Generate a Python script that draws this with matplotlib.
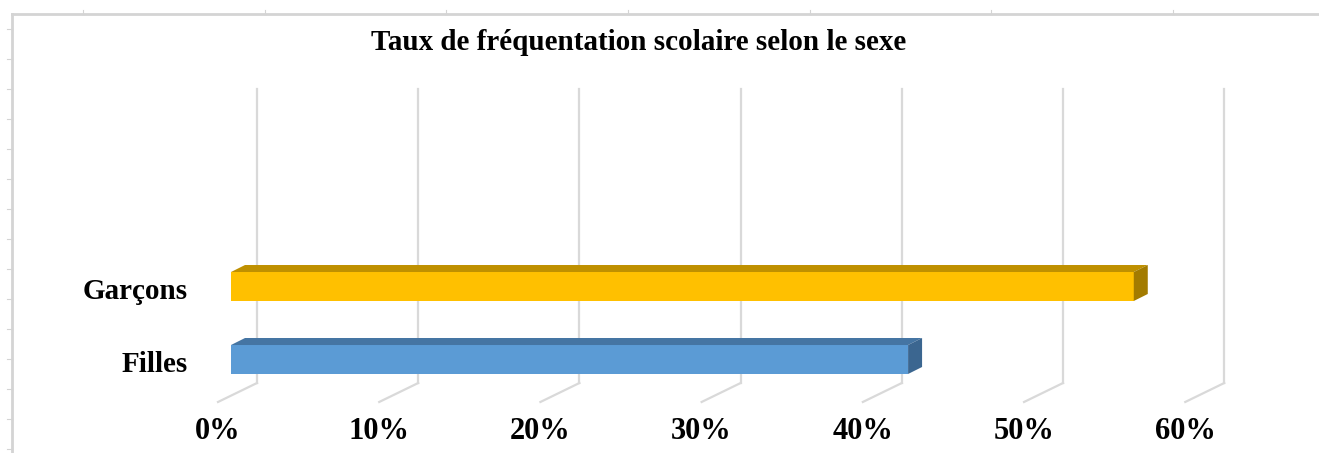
import numpy as np
import matplotlib.pyplot as plt
from matplotlib.patches import Polygon

# données
categories = ['Filles', 'Garçons']
valeurs = [42, 56]          # en %
ticks = [0, 10, 20, 30, 40, 50, 60]
tick_labels = ['0%', '10%', '20%', '30%', '40%', '50%', '60%']

faces = ['#5B9BD5', '#FFC000']
dessus = ['#4575A3', '#BF9000']
cotes = ['#3B6690', '#A37B00']

W, H = 1319, 453
fig = plt.figure(figsize=(W / 100, H / 100), dpi=100)
ax = fig.add_axes([0, 0, 1, 1])
ax.set_xlim(-14.33, 67.49)
ax.set_ylim(-1.281, 4.925)
ax.axis('off')

police = ['Liberation Serif', 'DejaVu Serif']

# effet 3D (décalages en unités de données)
prof_x, prof_y = 0.868, 0.0959    # profondeur de la barre
mur_x, mur_y = 1.613, 0.178       # paroi du fond
sol_x, sol_y = -0.806, -0.582     # bord avant du sol
haut_grille = 3.705
bas_grille = -0.322

# quadrillage vertical + lignes du sol
for t in ticks:
    ax.plot([t + mur_x, t + mur_x], [bas_grille, haut_grille], color='#D9D9D9', lw=1.6, zorder=1)
    ax.plot([t + mur_x, t + sol_x], [bas_grille, sol_y], color='#D9D9D9', lw=1.6, zorder=1)

# barres
h = 0.397
y = np.arange(len(categories))
ax.barh(y, valeurs, height=h, color=faces, zorder=3)
for i, v in enumerate(valeurs):
    haut = y[i] + h / 2
    ax.add_patch(Polygon([(0, haut), (v, haut), (v + prof_x, haut + prof_y), (prof_x, haut + prof_y)],
                         closed=True, facecolor=dessus[i], edgecolor='none', zorder=3))
    bas = y[i] - h / 2
    ax.add_patch(Polygon([(v, bas), (v, haut), (v + prof_x, haut + prof_y), (v + prof_x, bas + prof_y)],
                         closed=True, facecolor=cotes[i], edgecolor='none', zorder=3))

# étiquettes
for i, c in enumerate(categories):
    ax.text(-2.67, y[i] - 0.07, c, ha='right', va='center', fontsize=21,
            fontweight='bold', family=police)
for t, lab in zip(ticks, tick_labels):
    ax.text(t + sol_x, -0.993, lab, ha='center', va='center', fontsize=22,
            fontweight='bold', family=police)

fig.text(0.484, 0.907, 'Taux de fréquentation scolaire selon le sexe', ha='center', va='center',
         fontsize=21, fontweight='bold', family=police)

# restes de la grille de cellules (tableur)
gris = '#D4D4D4'
fig.add_artist(plt.Line2D([12 / W, 1], [1 - 14 / H, 1 - 14 / H], color=gris, lw=2))
fig.add_artist(plt.Line2D([12 / W, 12 / W], [0, 1 - 14 / H], color=gris, lw=2))
for py in range(29, 450, 30):
    fig.add_artist(plt.Line2D([7 / W, 12 / W], [1 - py / H, 1 - py / H], color=gris, lw=0.8))
for px in [83, 265, 446, 628, 810, 991, 1173]:
    fig.add_artist(plt.Line2D([px / W, px / W], [1 - 14 / H, 1 - 10 / H], color=gris, lw=0.8))

fig.savefig('out.png', dpi=100)
